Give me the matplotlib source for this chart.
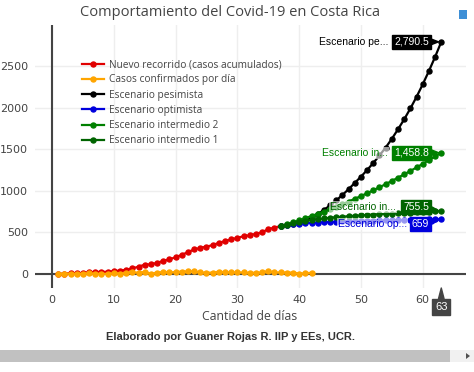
import matplotlib.pyplot as plt
from matplotlib.patches import Rectangle, Polygon

# datos
dias = list(range(1, 38))
acumulados = [1, 5, 9, 9, 13, 22, 23, 26, 27, 35, 41, 50, 69, 87, 113, 117, 134, 158, 177,
              201, 231, 263, 295, 314, 330, 347, 375, 396, 416, 435, 454, 467, 483, 502,
              539, 558, 577]

dias_conf = list(range(1, 43))
confirmados = [1, 4, 4, 0, 4, 9, 1, 3, 1, 8, 6, 9, 19, 18, 26, 4, 17, 24, 19, 24, 30, 32,
               32, 19, 16, 17, 28, 21, 20, 19, 19, 13, 16, 19, 37, 19, 19, 18, 17, 6, 8, 16]

dias_esc = list(range(37, 64))
pesimista = [577, 585, 600, 615, 640, 680, 720, 770, 825, 885, 950, 1020, 1095, 1170,
             1250, 1335, 1425, 1520, 1625, 1740, 1860, 1990, 2130, 2280, 2440, 2610, 2790.5]
optimista = [577, 588, 597, 604, 610, 615, 619, 623, 626, 629, 632, 634, 636, 638, 640,
             642, 644, 645, 647, 649, 650, 652, 653, 655, 656, 658, 659]
intermedio2 = [577, 599, 622, 646, 671, 697, 723, 751, 780, 809, 840, 871, 904, 937, 971,
               1007, 1043, 1080, 1119, 1158, 1198, 1239, 1281, 1324, 1368, 1413, 1458.8]
intermedio1 = [577, 595, 611, 626, 639, 650, 660, 668, 676, 683, 689, 695, 700, 705, 710,
               715, 719, 723, 727, 731, 735, 739, 742, 746, 749, 752, 755.5]

W, H = 474, 372
fig = plt.figure(figsize=(W / 100, H / 100), dpi=100)
ax = fig.add_axes([35 / W, 1 - 288 / H, 431 / W, 263 / H])

plt.rcParams['font.family'] = ['Open Sans', 'DejaVu Sans']
txt = '#444444'

ax.set_xlim(-2.75, 67.0)
ax.set_ylim(-168, 2993)
ax.set_xticks([0, 10, 20, 30, 40, 50, 60])
ax.set_yticks([0, 500, 1000, 1500, 2000, 2500])
ax.grid(True, color='#eeeeee', linewidth=1)
ax.set_axisbelow(True)
for s in ax.spines.values():
    s.set_visible(False)
ax.tick_params(length=0, labelsize=8, labelcolor=txt, pad=5)
ax.axhline(0, color=txt, lw=1.5, zorder=1)
ax.axvline(0, color=txt, lw=1.5, zorder=1)

kw = dict(lw=1.6, marker='o', ms=3.6)
ax.plot(dias, acumulados, color='#e00000', label='Nuevo recorrido (casos acumulados)', **kw)
ax.plot(dias_conf, confirmados, color='orange', label='Casos confirmados por día', **kw)
ax.plot(dias_esc, pesimista, color='black', label='Escenario pesimista', **kw)
ax.plot(dias_esc, optimista, color='#0000dd', label='Escenario optimista', **kw)
ax.plot(dias_esc, intermedio2, color='green', label='Escenario intermedio 2', **kw)
ax.plot(dias_esc, intermedio1, color='darkgreen', label='Escenario intermedio 1', **kw)

ax.legend(loc='upper left', bbox_to_anchor=(75 / W, 1 - 52 / H), bbox_transform=fig.transFigure,
          frameon=False, fontsize=7.3, handlelength=2.2, handletextpad=0.5,
          labelspacing=0.42, labelcolor=txt, borderpad=0.2)


def etiqueta(y, valor, nombre, color, dy, dx_nombre):
    ax.annotate(valor, xy=(63, y), xytext=(-12, dy), textcoords='offset pixels',
                ha='right', va='center', color='white', fontsize=7.5, family='Liberation Sans',
                bbox=dict(boxstyle='square,pad=0.2', fc=color, ec=color),
                arrowprops=dict(arrowstyle='wedge,tail_width=0.5', fc=color, ec=color,
                                shrinkA=0, shrinkB=2), zorder=5)
    ax.annotate(nombre, xy=(63, y), xytext=(dx_nombre, dy), textcoords='offset pixels',
                ha='right', va='center', color=color, fontsize=7.5, family='Liberation Sans',
                bbox=dict(boxstyle='square,pad=0.1', fc='white', ec='none', alpha=0.6), zorder=5)


etiqueta(pesimista[-1], '2,790.5', 'Escenario pe...', 'black', 0, -53)
etiqueta(intermedio2[-1], '1,458.8', 'Escenario in...', 'green', 0, -53)
etiqueta(intermedio1[-1], '755.5', 'Escenario in...', 'darkgreen', 4, -45)
etiqueta(optimista[-1], '659', 'Escenario op...', '#0000dd', -5, -34)

ax.annotate('63', xy=(63, 0), xycoords=('data', 'axes fraction'), xytext=(0, -19),
            textcoords='offset pixels', ha='center', va='center', color='white', fontsize=8,
            family='Liberation Sans', bbox=dict(boxstyle='square,pad=0.25', fc=txt, ec=txt),
            arrowprops=dict(arrowstyle='wedge,tail_width=0.5', fc=txt, ec=txt, shrinkA=0, shrinkB=0),
            annotation_clip=False)

fig.text(230 / W, 1 - 12 / H, 'Comportamiento del Covid-19 en Costa Rica', ha='center', va='center',
         fontsize=10.5, color=txt)
fig.text(250 / W, 1 - 316 / H, 'Cantidad de días', ha='center', va='center', fontsize=8.8, color=txt)
fig.text(-5 / W, 1 - 150 / H, 'Cantidad de casos', ha='center', va='center', rotation=90,
         fontsize=8.8, color=txt)
fig.text(230 / W, 1 - 337 / H, 'Elaborado por Guaner Rojas R. IIP y EEs, UCR.', ha='center',
         va='center', fontsize=8, fontweight='bold', color='#333333', family='Liberation Sans')

# icono de la barra de herramientas
fig.patches.append(Rectangle((459 / W, 1 - 19 / H), 8 / W, 9 / H, transform=fig.transFigure,
                             fc='#3d8fd6', ec='none'))

# barra de desplazamiento
fig.patches.append(Rectangle((0, 1 - 362 / H), 450 / W, 12 / H, transform=fig.transFigure,
                             fc='#c1c1c1', ec='none'))
fig.patches.append(Rectangle((450 / W, 1 - 362 / H), 24 / W, 12 / H, transform=fig.transFigure,
                             fc='#f1f1f1', ec='none'))
fig.patches.append(Polygon([(466 / W, 1 - 353 / H), (466 / W, 1 - 359 / H), (470 / W, 1 - 356 / H)],
                           transform=fig.transFigure, fc='#505050', ec='none'))

fig.savefig('out.png', dpi=100)
